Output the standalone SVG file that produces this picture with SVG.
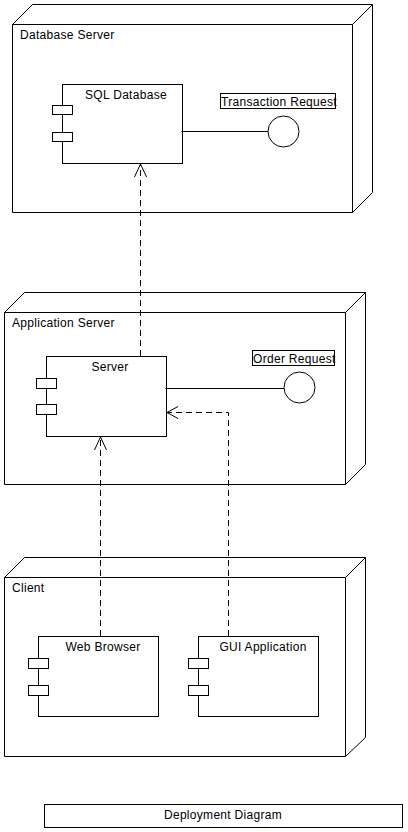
<svg xmlns="http://www.w3.org/2000/svg" width="408" height="832" viewBox="0 0 408 832">
<style>
.s{fill:none;stroke:#000;stroke-width:1}
.w{fill:#fff;stroke:#000;stroke-width:1}
.d{fill:none;stroke:#000;stroke-width:1;stroke-dasharray:6,4}
text{font-family:"Liberation Sans",Arial,sans-serif;font-size:12px;letter-spacing:0.3px;fill:#000}
.m{text-anchor:middle}
</style>
<rect width="408" height="832" fill="#fff"/>
<g id="database-server">
<path class="w" d="M12.5,24.5 L32.5,4.5 L372.5,4.5 L372.5,192.5 L352.5,212.5 L12.5,212.5 Z"/>
<path class="s" d="M12.5,24.5 L352.5,24.5 L372.5,4.5 M352.5,24.5 L352.5,212.5"/>
<text x="20" y="39">Database Server</text>
</g>
<g id="sql-database">
<rect class="w" x="62.5" y="84.5" width="120" height="79"/>
<rect class="w" x="52.5" y="105.5" width="20" height="9"/>
<rect class="w" x="52.5" y="132.5" width="20" height="9"/>
<text class="m" x="126" y="99">SQL Database</text>
</g>
<g id="transaction-request">
<circle class="w" cx="283.5" cy="131.5" r="15.5"/>
<rect class="w" x="220.5" y="93.5" width="115" height="15"/>
<text x="221" y="106">Transaction Request</text>
</g>
<g id="application-server">
<path class="w" d="M4.5,312.5 L24.5,292.5 L365.5,292.5 L365.5,464.5 L345.5,484.5 L4.5,484.5 Z"/>
<path class="s" d="M4.5,312.5 L345.5,312.5 L365.5,292.5 M345.5,312.5 L345.5,484.5"/>
<text x="12" y="327">Application Server</text>
</g>
<g id="server">
<rect class="w" x="46.5" y="356.5" width="120" height="80"/>
<rect class="w" x="36.5" y="378.5" width="20" height="10"/>
<rect class="w" x="36.5" y="404.5" width="20" height="10"/>
<text class="m" x="110" y="371">Server</text>
</g>
<g id="order-request">
<circle class="w" cx="299.5" cy="387.5" r="15.5"/>
<rect class="w" x="252.5" y="350.5" width="82" height="15"/>
<text x="253" y="363">Order Request</text>
</g>
<g id="client">
<path class="w" d="M4.5,577.5 L24.5,557.5 L365.5,557.5 L365.5,737.5 L345.5,756.5 L4.5,756.5 Z"/>
<path class="s" d="M4.5,577.5 L345.5,577.5 L365.5,557.5 M345.5,577.5 L345.5,756.5"/>
<text x="12" y="592">Client</text>
</g>
<g id="web-browser">
<rect class="w" x="38.5" y="636.5" width="120" height="80"/>
<rect class="w" x="28.5" y="658.5" width="20" height="10"/>
<rect class="w" x="28.5" y="685.5" width="20" height="10"/>
<text class="m" x="103" y="651">Web Browser</text>
</g>
<g id="gui-application">
<rect class="w" x="198.5" y="636.5" width="120" height="80"/>
<rect class="w" x="188.5" y="658.5" width="20" height="10"/>
<rect class="w" x="188.5" y="685.5" width="20" height="10"/>
<text class="m" x="263" y="651">GUI Application</text>
</g>
<g id="connectors">
<path class="s" d="M181.5,131.5 L268,131.5"/>
<path class="s" d="M165.5,388.5 L284,388.5"/>
<path class="d" d="M140.5,356 L140.5,164"/>
<path class="s" d="M134.5,177 L140.5,164 L146.5,177"/>
<path class="d" d="M100.5,636 L100.5,437"/>
<path class="s" d="M94.5,450 L100.5,437 L106.5,450"/>
<path class="d" d="M228.5,636 L228.5,412.5 L167,412.5"/>
<path class="s" d="M178,406.5 L167,412.5 L178,418.5"/>
</g>
<g id="title">
<rect class="w" x="44.5" y="804.5" width="358" height="23"/>
<text class="m" x="223" y="819">Deployment Diagram</text>
</g>
</svg>
